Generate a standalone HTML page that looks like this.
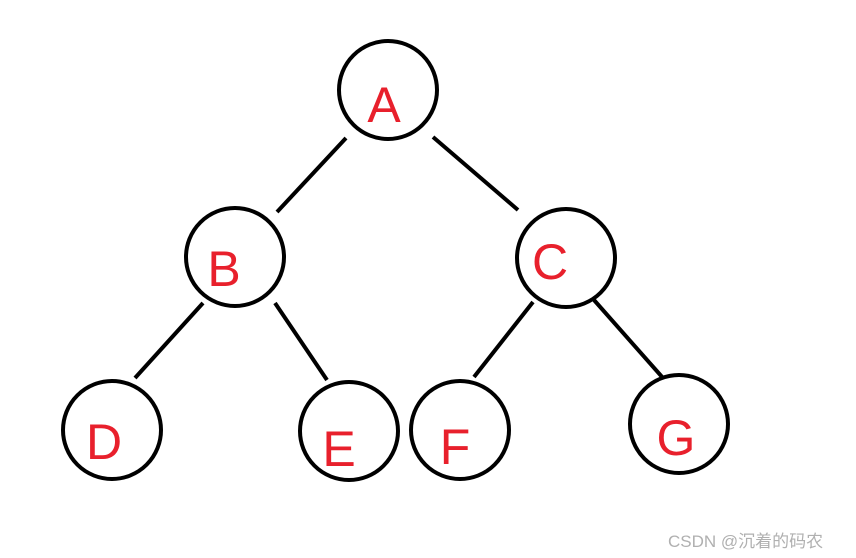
<!DOCTYPE html>
<html><head><style>
html,body{margin:0;padding:0;background:#fff;width:856px;height:558px;overflow:hidden}
svg text{font-family:"Liberation Sans","Noto Sans CJK SC",sans-serif}
</style></head><body>
<svg width="856" height="558" viewBox="0 0 856 558" xmlns="http://www.w3.org/2000/svg">
<g fill="none" stroke="#000" stroke-width="4">
<circle cx="388" cy="90" r="49"/>
<circle cx="235" cy="257" r="49"/>
<circle cx="566" cy="258" r="49"/>
<circle cx="112" cy="430" r="49"/>
<circle cx="349" cy="431" r="49"/>
<circle cx="460" cy="430" r="49"/>
<circle cx="679" cy="424" r="49"/>
<line x1="346" y1="138" x2="277" y2="212"/>
<line x1="433" y1="137" x2="518" y2="210"/>
<line x1="203" y1="303" x2="135" y2="378"/>
<line x1="275" y1="303" x2="327" y2="380"/>
<line x1="533" y1="302" x2="474" y2="377"/>
<line x1="594" y1="300" x2="663" y2="378"/>
</g>
<g fill="#e8202c" font-size="50" text-anchor="middle">
<text x="384" y="122">A</text>
<text x="224" y="286">B</text>
<text x="550" y="279">C</text>
<text x="104" y="459">D</text>
<text x="339" y="466">E</text>
<text x="455" y="464">F</text>
<text x="676" y="455">G</text>
</g>
<text x="668" y="547" font-size="17" fill="#b0b0b0">CSDN @沉着的码农</text>
</svg>
</body></html>
